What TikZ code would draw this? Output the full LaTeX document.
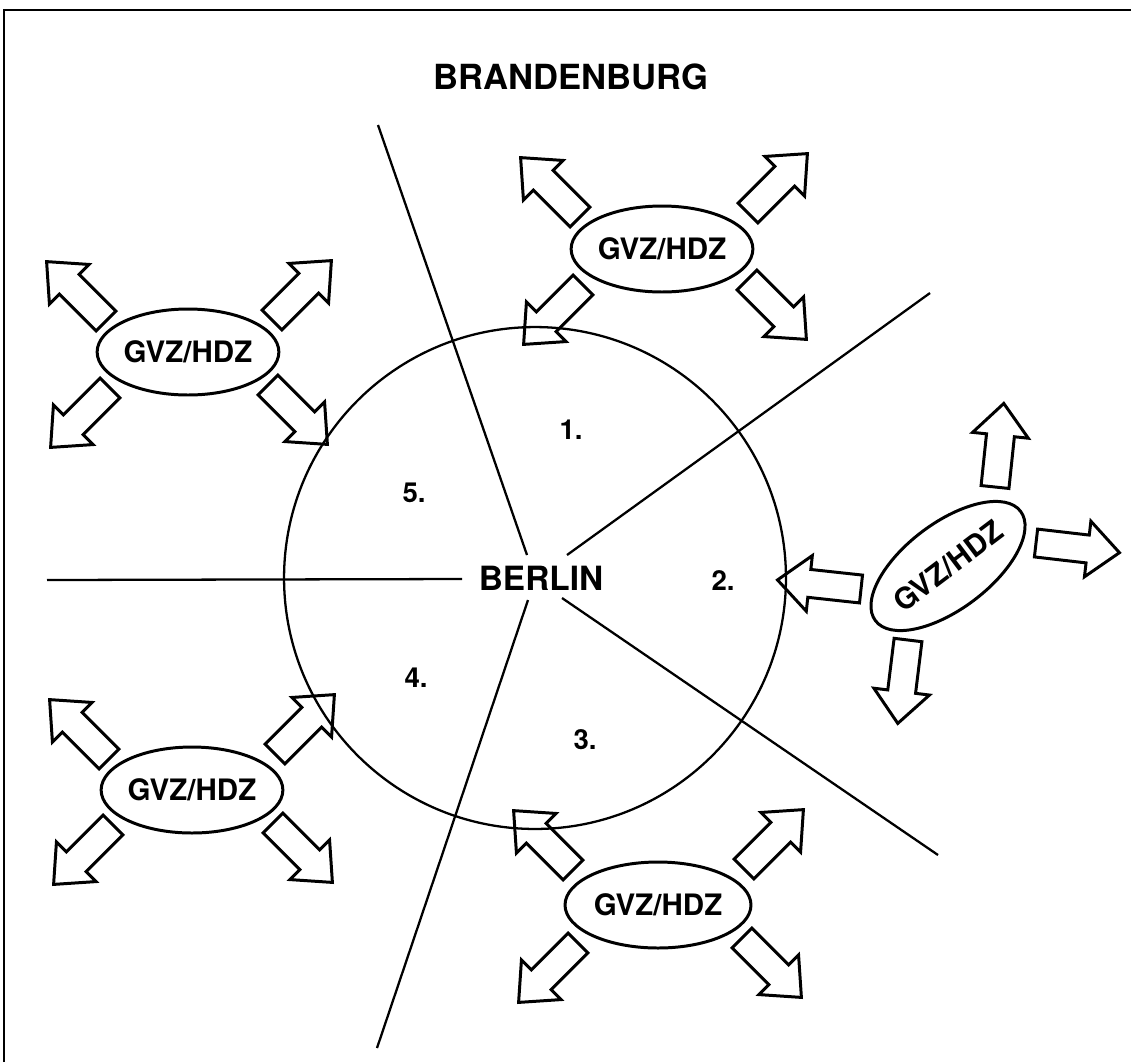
\documentclass[tikz,border=0pt]{standalone}
\usepackage{fontspec}
\setmainfont{TeX Gyre Heros}
\usetikzlibrary{shapes.geometric}
\newcommand{\fatarrow}[3]{%
  \draw[fatarr, shift={(#1,#2)}, rotate=#3]
    (0,-14) -- (52,-14) -- (52,-28) -- (84,0) -- (52,28) -- (52,14) -- (0,14) -- cycle;}
\tikzset{
  fatarr/.style={draw=black, line width=1.7pt, line join=miter},
  gvz/.style={draw=black, ellipse, line width=1.7pt, minimum width=3.6cm, minimum height=1.72cm, inner sep=0pt,
    font=\fontsize{16.8}{20}\selectfont\bfseries},
  ray/.style={draw=black, line width=1.3pt},
  num/.style={font=\fontsize{15.7}{19}\selectfont\bfseries, inner sep=0pt},
}
\begin{document}
\begin{tikzpicture}[x=0.02cm, y=-0.02cm]
\useasboundingbox (0,0) rectangle (1131,1062);
% frame
\coordinate (fbl) at (4,1062);
\coordinate (ftl) at (4,10);
\coordinate (ftr) at (1131,10);
\draw[line width=1.3pt] (fbl) -- (ftl) -- (ftr);
% title
\node[font=\fontsize{19.7}{24}\selectfont\bfseries, inner sep=0pt] (title) at (571,77) {BRANDENBURG};
% circle
\node[draw=black, circle, line width=1.3pt, minimum size=10.04cm, inner sep=0pt] (berlinc) at (535,578) {};
% center label
\node[font=\fontsize{19}{23}\selectfont\bfseries, inner sep=0pt] (berlin) at (541,578) {BERLIN};
% rays
\coordinate (r1a) at (527,555); \coordinate (r1b) at (378,125);
\coordinate (r2a) at (567,555); \coordinate (r2b) at (930,293);
\coordinate (r3a) at (462,579); \coordinate (r3b) at (47,580);
\coordinate (r4a) at (528,600); \coordinate (r4b) at (377,1048);
\coordinate (r5a) at (562,598); \coordinate (r5b) at (938,855);
\draw[ray] (r1a) -- (r1b);
\draw[ray] (r2a) -- (r2b);
\draw[ray] (r3a) -- (r3b);
\draw[ray] (r4a) -- (r4b);
\draw[ray] (r5a) -- (r5b);
% sector numbers
\node[num] (n1) at (571,430) {1.};
\node[num] (n2) at (723,580) {2.};
\node[num] (n3) at (585,740) {3.};
\node[num] (n4) at (416,678) {4.};
\node[num] (n5) at (414,493) {5.};
% ellipses
\node[gvz] (eTop) at (662,249) {GVZ/HDZ};
\node[gvz] (eTL) at (188,352) {GVZ/HDZ};
\node[gvz] (eBL) at (192,790) {GVZ/HDZ};
\node[gvz, minimum width=3.72cm] (eB) at (658,905) {GVZ/HDZ};
\node[gvz, rotate=37] (eR) at (948,566) {GVZ/HDZ};
% arrows top cluster
\fatarrow{580}{217}{135}
\fatarrow{748}{213}{45}
\fatarrow{583}{285}{225}
\fatarrow{747}{280}{-45}
% top-left cluster
\fatarrow{106}{321}{135}
\fatarrow{272}{320}{45}
\fatarrow{110}{388}{225}
\fatarrow{268}{385}{-45}
% bottom-left cluster
\fatarrow{109}{759}{135}
\fatarrow{275}{754}{45}
\fatarrow{113}{825}{225}
\fatarrow{273}{823}{-45}
% bottom cluster
\fatarrow{573}{870}{135}
\fatarrow{744}{869}{45}
\fatarrow{578}{943}{225}
\fatarrow{742}{938}{-45}
% right cluster
\fatarrow{995}{487}{84}
\fatarrow{1036}{543}{-6.6}
\fatarrow{861}{589}{173.8}
\fatarrow{908}{640}{-97}
\end{tikzpicture}
\end{document}
